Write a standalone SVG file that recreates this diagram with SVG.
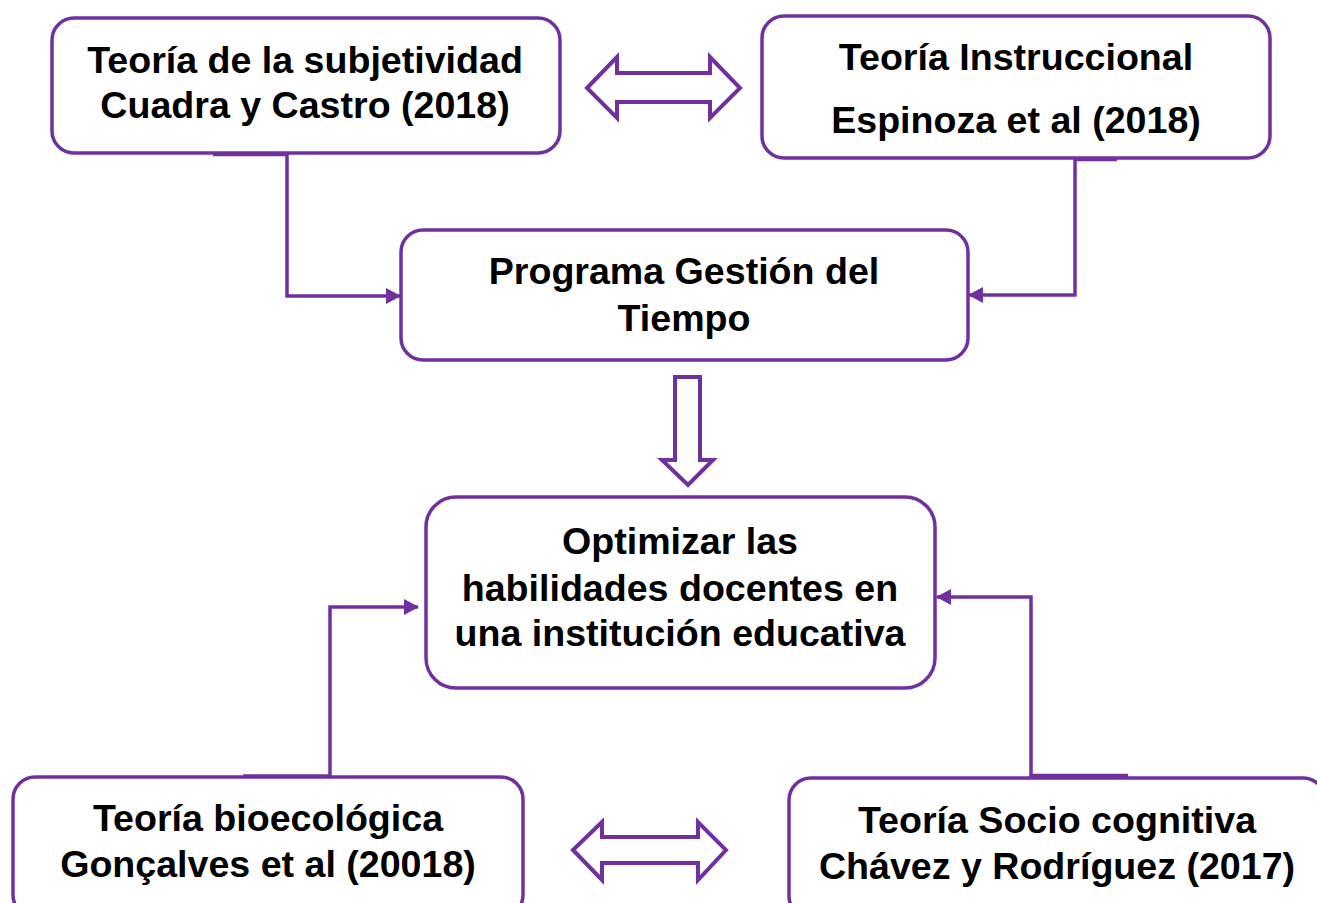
<svg xmlns="http://www.w3.org/2000/svg" width="1317" height="903" viewBox="0 0 1317 903">
<defs>
<style>
.box{fill:#fff;stroke:#7030A0;stroke-width:3.5}
.conn{fill:none;stroke:#7030A0;stroke-width:3.5}
.big{fill:#fff;stroke:#7030A0;stroke-width:4;stroke-linejoin:miter}
.t{font-family:"Liberation Sans",Arial,sans-serif;font-weight:bold;font-size:37.6px;fill:#000;text-anchor:middle}
</style>
<marker id="ah" markerWidth="15" markerHeight="16" refX="14" refY="8" orient="auto" markerUnits="userSpaceOnUse">
<path d="M0,0 L15,8 L0,16 Z" fill="#7030A0"/>
</marker>
</defs>
<rect width="1317" height="903" fill="#fff"/>
<g id="connectors">
<path class="conn" d="M287,153 V296 H400" marker-end="url(#ah)"/>
<line class="conn" x1="213" y1="154.5" x2="287" y2="154.5"/>
<path class="conn" d="M1075,158 V295 H969" marker-end="url(#ah)"/>
<line class="conn" x1="1075" y1="159.5" x2="1117" y2="159.5"/>
<path class="conn" d="M330,777 V607 H418" marker-end="url(#ah)"/>
<line class="conn" x1="243" y1="776" x2="330" y2="776"/>
<path class="conn" d="M1031,777 V597 H937" marker-end="url(#ah)"/>
<line class="conn" x1="1031" y1="775.5" x2="1128" y2="775.5"/>
<polygon class="big" points="587,88 617,57 617,73 710,73 710,57 740,88 710,118 710,102 617,102 617,118"/>
<polygon class="big" points="573,850 602,822 602,837 698,837 698,822 726,850 698,880 698,863 602,863 602,880"/>
<polygon class="big" points="675,377 700,377 700,460 713,460 688,485 662,460 675,460"/>
</g>
<g id="n1">
<rect class="box" x="52" y="18" width="508" height="135" rx="22"/>
<text class="t" x="305" y="73">Teoría de la subjetividad</text>
<text class="t" x="305" y="118">Cuadra y Castro (2018)</text>
</g>
<g id="n2">
<rect class="box" x="762" y="16" width="508" height="142" rx="22"/>
<text class="t" x="1016" y="70">Teoría Instruccional</text>
<text class="t" x="1016" y="133">Espinoza et al (2018)</text>
</g>
<g id="n3">
<rect class="box" x="401" y="230" width="567" height="130" rx="22"/>
<text class="t" x="684" y="284">Programa Gestión del</text>
<text class="t" x="684" y="331">Tiempo</text>
</g>
<g id="n4">
<rect class="box" x="426" y="497" width="509" height="191" rx="30"/>
<text class="t" x="680" y="554">Optimizar las</text>
<text class="t" x="680" y="601">habilidades docentes en</text>
<text class="t" x="680" y="646">una institución educativa</text>
</g>
<g id="n5">
<rect class="box" x="13" y="777" width="510" height="140" rx="22"/>
<text class="t" x="268" y="831">Teoría bioecológica</text>
<text class="t" x="268" y="877">Gonçalves et al (20018)</text>
</g>
<g id="n6">
<rect class="box" x="789" y="778" width="536" height="140" rx="22"/>
<text class="t" x="1057" y="833">Teoría Socio cognitiva</text>
<text class="t" x="1057" y="879">Chávez y Rodríguez (2017)</text>
</g>
</svg>
